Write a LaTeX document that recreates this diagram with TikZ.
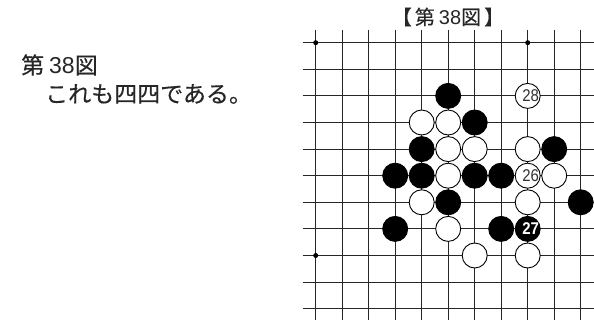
\documentclass[tikz,border=0pt]{standalone}
\usepackage{fontspec}
\setmainfont{Liberation Sans}
\newfontfamily\jp[FakeBold=0.3]{Noto Sans CJK JP}
\begin{document}
\begin{tikzpicture}[x=1pt,y=-1pt,
  gridline/.style={line width=1pt,black!85},
  hoshi/.style={circle,fill=black,minimum size=5pt,inner sep=0pt},
  stoneW/.style={circle,draw=black,line width=0.9pt,fill=white,minimum size=25pt,inner sep=0pt},
  stoneB/.style={circle,draw=black,line width=0.9pt,fill=black,minimum size=25pt,inner sep=0pt},
  numW/.style={font=\fontsize{17}{17}\selectfont,text=black!80,inner sep=0pt,xscale=0.88},
  numB/.style={font=\fontsize{17}{17}\selectfont\bfseries,text=white,inner sep=0pt,xscale=0.88},
  jptext/.style={font=\fontsize{23}{23}\selectfont,text=black!85,inner sep=0pt,anchor=west},
]
\useasboundingbox (0,0) rectangle (594,323);
\foreach \i in {0,...,10}{
  \draw[gridline] ({315.7+26.5*\i},30) -- ({315.7+26.5*\i},320);
  \draw[gridline] (302.7,{42.7+26.6*\i}) -- (594,{42.7+26.6*\i});
  \foreach \j in {0,...,10}{
    \coordinate (p\i-\j) at ({315.7+26.5*\i},{42.7+26.6*\j});
  }
}
\node[hoshi] (h1) at (p0-0) {};
\node[hoshi] (h2) at (p8-0) {};
\node[hoshi] (h3) at (p0-8) {};
% black stones
\foreach \c/\r [count=\k] in {5/2,6/3,4/4,9/4,3/5,4/5,6/5,7/5,5/6,10/6,3/7,7/7}{
  \node[stoneB] (b\k) at (p\c-\r) {};
}
% white stones
\foreach \c/\r [count=\k] in {4/3,5/3,5/4,6/4,8/4,5/5,9/5,4/6,8/6,5/7,6/8,8/8}{
  \node[stoneW] (w\k) at (p\c-\r) {};
}
% numbered stones
\node[stoneW] (w28) at (p8-2) {};
\node[numW] (t28) at ([xshift=3pt]w28.center) {28};
\node[stoneW] (w26) at (p8-5) {};
\node[numW] (t26) at ([xshift=3pt]w26.center) {26};
\node[stoneB] (b27) at (p8-7) {};
\node[numB] (t27) at ([xshift=3pt]b27.center) {27};
% texts
\node[font=\fontsize{20}{20}\selectfont,text=black!85,inner sep=0pt] (title) at (448,17) {\jp 【\hspace{3pt}第\hspace{4pt}\rmfamily 38\jp 図\hspace{3pt}】};
\node[jptext] (l1) at (21,65) {\jp 第\hspace{5pt}\rmfamily 38\jp 図};
\node[jptext] (l2) at (45,94) {\jp これも四四である。};
\end{tikzpicture}
\end{document}
